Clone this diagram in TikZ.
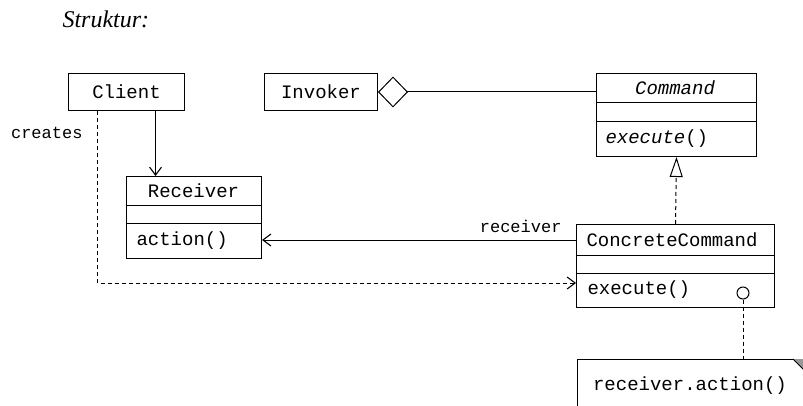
\documentclass[tikz,border=0pt]{standalone}
\usepackage{fontspec}
\setmainfont{Liberation Serif}
\setmonofont{Liberation Mono}
\usetikzlibrary{arrows.meta,calc}
\begin{document}
\begin{tikzpicture}[x=1pt,y=-1pt, line width=1pt,
  cls/.style={draw, rectangle, inner sep=0pt, anchor=north west},
  lbl/.style={font=\ttfamily\fontsize{19}{22}\selectfont, inner sep=0pt},
  small/.style={font=\ttfamily\fontsize{17}{20}\selectfont, inner sep=0pt},
  openarrow/.style={-{Straight Barb[length=8pt,width=12pt,line width=1.1pt]}},
  sep/.style={line width=1pt},
  dsh/.style={dashed, dash pattern=on 4pt off 3pt}]
\useasboundingbox (0,0) rectangle (803,406);

\node[font=\itshape\fontsize{24}{28}\selectfont, anchor=west, inner sep=0pt] (title) at (62,19) {Struktur:};

% Client
\node[cls, lbl, minimum width=116pt, minimum height=37pt] (client) at (68,73) {Client};
% Invoker
\node[cls, lbl, minimum width=113pt, minimum height=37pt] (invoker) at (264,73) {Invoker};

% Command
\node[cls, minimum width=160pt, minimum height=83pt] (command) at (596,73) {};
\draw[sep] (596,103) -- (756,103);
\draw[sep] (596,122) -- (756,122);
\node[lbl] (cmdname) at (675,88) {\itshape Command};
\node[lbl, anchor=west] (cmdop) at (605,139) {{\itshape execute}()};

% Receiver
\node[cls, minimum width=135pt, minimum height=82pt] (recv) at (126,176) {};
\draw[sep] (126,206) -- (261,206);
\draw[sep] (126,224) -- (261,224);
\node[lbl] (recvname) at (193.5,191) {Receiver};
\node[lbl, anchor=west] (recvop) at (136,241) {action()};

% ConcreteCommand
\node[cls, minimum width=198pt, minimum height=83pt] (cc) at (576,224) {};
\draw[sep] (576,255) -- (774,255);
\draw[sep] (576,273) -- (774,273);
\node[lbl, anchor=west] (ccname) at (586,240) {ConcreteCommand};
\node[lbl, anchor=west] (ccop) at (587,290) {execute()};
\node[circle, draw, minimum size=12pt, inner sep=0pt] (circ) at (743,293) {};

% Note
\draw (577,410) -- (577,359) -- (793,359);
\fill[gray!80] (793,359) -- (804,359) -- (804,370) -- cycle;
\draw (793,359) -- (804,370);
\node[lbl] (note) at (690,386) {receiver.action()};
\coordinate (notetop) at (743,359);

% Connectors
\draw[-{Diamond[open,length=30pt,width=31pt,line width=1pt]}] (invoker.east -| command.west) -- (invoker.east);
\draw[-{Triangle[open,length=20pt,width=13pt,line width=1pt]}, dsh] (cc.north) -- (command.south);
\draw[openarrow] ([xshift=29pt]client.south) -- ([xshift=29pt]client.south |- recv.north);
\draw[openarrow] ([yshift=-16pt]cc.north west) -- ([yshift=-16pt]cc.north west -| recv.east);
\node[small, anchor=south east] (rlabel) at ([xshift=-14pt,yshift=-9pt]cc.north west) {receiver};
\draw[openarrow, dsh] ([xshift=-29pt]client.south) |- ([yshift=-59pt]cc.north west);
\node[small, anchor=east] (creates) at (83,133) {creates};
\draw[dsh] (circ.south) -- (notetop);
\end{tikzpicture}
\end{document}
